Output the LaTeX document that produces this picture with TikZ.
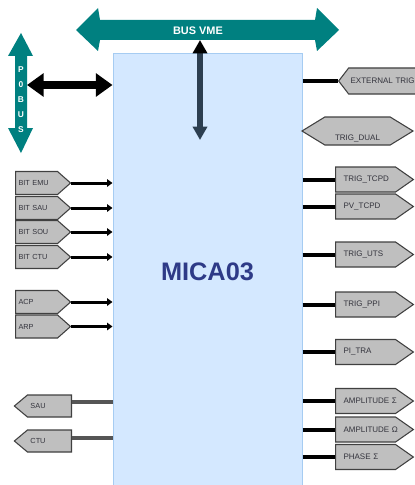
\documentclass[tikz,border=0pt]{standalone}
\usepackage{fontspec}
\setmainfont{Liberation Sans}
\usetikzlibrary{shapes.symbols,arrows.meta,positioning}

\definecolor{busteal}{RGB}{0,128,128}
\definecolor{micafill}{RGB}{212,232,255}
\definecolor{micaline}{RGB}{166,204,242}
\definecolor{micatext}{RGB}{46,58,135}
\definecolor{sigfill}{RGB}{191,191,191}
\definecolor{sigline}{RGB}{64,64,64}
\definecolor{sigtext}{RGB}{51,51,60}
\definecolor{slate}{RGB}{44,62,80}
\definecolor{backgray}{RGB}{85,85,85}

\begin{document}
\begin{tikzpicture}[
    x=0.75pt, y=-0.75pt,
    sig_base/.style={signal, draw=sigline, fill=sigfill, line width=0.8pt, inner ysep=0pt, text=sigtext},
    sig_in/.style={sig_base, signal to=east, minimum height=17.25pt, text width=27pt, inner xsep=2.25pt, align=left, signal pointer angle=83, font=\fontsize{5.5}{6}\selectfont, anchor=west},
    sig_back/.style={sig_base, signal to=west, minimum height=16.5pt, text width=28.5pt, inner xsep=2.25pt, align=left, signal pointer angle=80, font=\fontsize{5.5}{6}\selectfont, anchor=east},
    sig_out/.style={sig_base, signal to=east, minimum height=18.75pt, text width=33pt, inner xsep=6pt, align=left, signal pointer angle=70, font=\fontsize{6}{7}\selectfont, anchor=west},
    bus_text/.style={text=white, inner sep=0pt},
    in_arr/.style={-{Triangle[length=4pt,width=5.5pt]}, line width=2.25pt},
    out_line/.style={line width=3pt},
    back_line/.style={line width=3pt, backgray}
]
\useasboundingbox (0,0) rectangle (414,485);

% ===== MAIN BOARD =====
\node[draw=micaline, fill=micafill, line width=0.75pt, minimum width=141.75pt, minimum height=327pt,
      font=\fontsize{19}{22}\selectfont\bfseries, text=micatext] (mica) at (207.5,272) {MICA03};

% ===== BUSES =====
% VME bus (teal double arrow)
\fill[busteal] (76,30) -- (98,8) -- (100,20) -- (315,20) -- (317,8) -- (339,30)
               -- (317,51) -- (315,40) -- (100,40) -- (98,51) -- cycle;
\node[bus_text, font=\fontsize{8.2}{9}\selectfont\bfseries] (busvme) at (198,31) {BUS VME};

% P0 bus (teal, vertical)
\fill[busteal] (21,33) -- (33,56) -- (27,56) -- (27,128) -- (33,128) -- (21,153)
               -- (8,128) -- (15,128) -- (15,56) -- (8,56) -- cycle;
\node[bus_text, font=\fontsize{6.3}{11.25}\selectfont\bfseries, align=center] (p0bus) at (21,100) {P\\0\\B\\U\\S};

% P0 bus link (black) and VME link (slate)
\coordinate (p0_port) at (27,85);
\draw[line width=6pt, {Triangle[length=12.5pt,width=17pt]}-{Triangle[length=12.5pt,width=17pt]}] (p0_port) -- (p0_port -| mica.west);
\coordinate (vme_port) at (200,40);
\coordinate (vme_end) at (200,140);
\draw[line width=4pt, slate, {Triangle[length=10pt,width=10.5pt,color=black]}-{Triangle[length=10pt,width=10.5pt]}] (vme_port) -- (vme_end);

% ===== LEFT: BIT inputs =====
\node[sig_in] (bitemu) at (15,183) {BIT EMU};
\node[sig_in] (bitsau) at (15,208) {BIT SAU};
\node[sig_in] (bitsou) at (15,232) {BIT SOU};
\node[sig_in] (bitctu) at (15,257) {BIT CTU};
\draw[in_arr] (bitemu.east) -- (bitemu.east -| mica.west);
\draw[in_arr] (bitsau.east) -- (bitsau.east -| mica.west);
\draw[in_arr] (bitsou.east) -- (bitsou.east -| mica.west);
\draw[in_arr] (bitctu.east) -- (bitctu.east -| mica.west);

% ACP / ARP inputs
\node[sig_in] (acp) at (15,302) {ACP};
\node[sig_in] (arp) at (15,326.5) {ARP};
\draw[in_arr] (acp.east) -- (acp.east -| mica.west);
\draw[in_arr] (arp.east) -- (arp.east -| mica.west);

% SAU / CTU outputs (gray)
\node[sig_back] (sau) at (72,406) {SAU};
\node[sig_back] (ctu) at (72,441) {CTU};
\draw[back_line] ([yshift=3pt]sau.east) -- ([yshift=3pt]sau.east -| mica.west);
\draw[back_line] ([yshift=2pt]ctu.east) -- ([yshift=2pt]ctu.east -| mica.west);

% ===== RIGHT: triggers =====
\node[sig_base, signal to=west, minimum height=19.5pt, text width=58.5pt, inner xsep=1.5pt, align=left,
      signal pointer angle=105, font=\fontsize{6}{7}\selectfont, anchor=west] (exttrig) at (338,81) {EXTERNAL TRIG};
\draw[out_line] (exttrig.west -| mica.east) -- (exttrig.west);

\node[sig_base, signal to=west and east, signal pointer angle=63, text width=45pt, inner xsep=2pt, align=center,
      text height=17.25pt, text depth=3.75pt, font=\fontsize{6}{7}\selectfont] (trigdual) at (357.5,131) {TRIG\_DUAL};

\node[sig_out] (trigtcpd) at (335,179.5) {TRIG\_TCPD};
\node[sig_out] (pvtcpd) at (335,206.5) {PV\_TCPD};
\node[sig_out] (triguts) at (335,254.5) {TRIG\_UTS};
\node[sig_out] (trigppi) at (335,304.5) {TRIG\_PPI};
\node[sig_out] (pitra) at (335,352) {PI\_TRA};
\draw[out_line] (trigtcpd.west -| mica.east) -- (trigtcpd.west);
\draw[out_line] (pvtcpd.west -| mica.east) -- (pvtcpd.west);
\draw[out_line] (triguts.west -| mica.east) -- (triguts.west);
\draw[out_line] (trigppi.west -| mica.east) -- (trigppi.west);
\draw[out_line] (pitra.west -| mica.east) -- (pitra.west);

% Amplitude / phase
\node[sig_out] (ampsig) at (335,401) {AMPLITUDE~Σ};
\node[sig_out] (ampome) at (335,429.5) {AMPLITUDE~Ω};
\node[sig_out] (phasig) at (335,457) {PHASE~Σ};
\draw[out_line] (ampsig.west -| mica.east) -- (ampsig.west);
\draw[out_line] (ampome.west -| mica.east) -- (ampome.west);
\draw[out_line] (phasig.west -| mica.east) -- (phasig.west);

\end{tikzpicture}
\end{document}
